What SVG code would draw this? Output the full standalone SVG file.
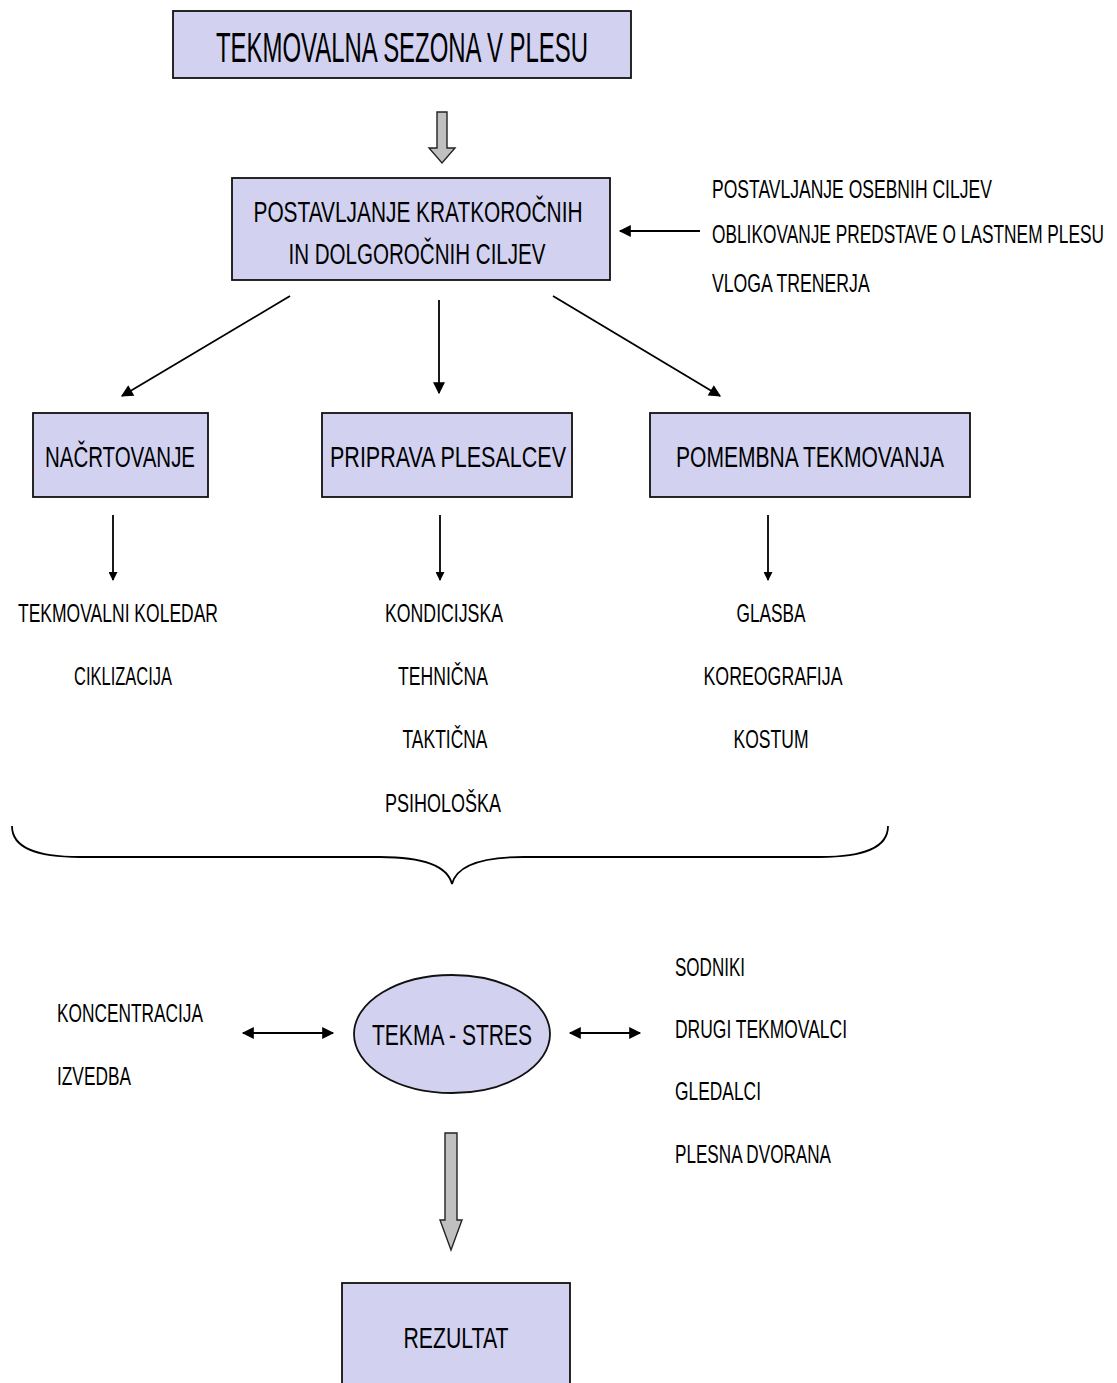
<svg xmlns="http://www.w3.org/2000/svg" width="1117" height="1383" viewBox="0 0 1117 1383">
  <style>
    .box { fill: #d2d2f0; stroke: #111; stroke-width: 1.8; }
    .t { font-family: "Liberation Sans", Arial, sans-serif; fill: #000; }
    .big { font-size: 42px; }
    .mid { font-size: 30px; }
    .sm { font-size: 26px; }
    .con { stroke: #000; stroke-width: 1.8; fill: none; }
    .block { fill: #c0c0c0; stroke: #222; stroke-width: 1.4; }
  </style>
  <defs>
    <marker id="ah" viewBox="0 0 10 10" refX="9" refY="5" markerWidth="10" markerHeight="9" markerUnits="userSpaceOnUse" orient="auto-start-reverse">
      <path d="M0,0 L10,5 L0,10 z" fill="#000"/>
    </marker>
    <marker id="ahb" viewBox="0 0 10 10" refX="9" refY="5" markerWidth="14" markerHeight="12" markerUnits="userSpaceOnUse" orient="auto-start-reverse">
      <path d="M0,0 L10,5 L0,10 z" fill="#000"/>
    </marker>
  </defs>

  <rect width="1117" height="1383" fill="#fff"/>

  <g id="season">
    <rect class="box" x="173" y="11" width="458" height="67"/>
    <text class="t big" x="402" y="62" text-anchor="middle" textLength="372" lengthAdjust="spacingAndGlyphs">TEKMOVALNA SEZONA V PLESU</text>
  </g>

  <g id="goals">
    <rect class="box" x="232" y="178" width="378" height="102"/>
    <text class="t mid" x="418" y="222" text-anchor="middle" textLength="329" lengthAdjust="spacingAndGlyphs">POSTAVLJANJE KRATKOROČNIH</text>
    <text class="t mid" x="417" y="264" text-anchor="middle" textLength="257" lengthAdjust="spacingAndGlyphs">IN DOLGOROČNIH CILJEV</text>
  </g>

  <!-- condensed with a horizontal scale so the long lines keep inside the page -->
  <g id="goal-factors">
    <text class="t sm" transform="translate(712,198) scale(0.66,1)" textLength="424" lengthAdjust="spacingAndGlyphs">POSTAVLJANJE OSEBNIH CILJEV</text>
    <text class="t sm" transform="translate(712,243) scale(0.66,1)" textLength="594" lengthAdjust="spacingAndGlyphs">OBLIKOVANJE PREDSTAVE O LASTNEM PLESU</text>
    <text class="t sm" transform="translate(712,292) scale(0.66,1)" textLength="239" lengthAdjust="spacingAndGlyphs">VLOGA TRENERJA</text>
  </g>

  <g id="planning">
    <rect class="box" x="33" y="413" width="175" height="84"/>
    <text class="t mid" x="120" y="467" text-anchor="middle" textLength="150" lengthAdjust="spacingAndGlyphs">NAČRTOVANJE</text>
  </g>

  <g id="preparation">
    <rect class="box" x="322" y="413" width="250" height="84"/>
    <text class="t mid" x="448" y="467" text-anchor="middle" textLength="236" lengthAdjust="spacingAndGlyphs">PRIPRAVA PLESALCEV</text>
  </g>

  <g id="competitions">
    <rect class="box" x="650" y="413" width="320" height="84"/>
    <text class="t mid" x="810" y="467" text-anchor="middle" textLength="268" lengthAdjust="spacingAndGlyphs">POMEMBNA TEKMOVANJA</text>
  </g>

  <g id="planning-items">
    <text class="t sm" x="118" y="622" text-anchor="middle" textLength="200" lengthAdjust="spacingAndGlyphs">TEKMOVALNI KOLEDAR</text>
    <text class="t sm" x="123" y="685" text-anchor="middle" textLength="98" lengthAdjust="spacingAndGlyphs">CIKLIZACIJA</text>
  </g>

  <g id="preparation-items">
    <text class="t sm" x="444" y="622" text-anchor="middle" textLength="118" lengthAdjust="spacingAndGlyphs">KONDICIJSKA</text>
    <text class="t sm" x="443" y="685" text-anchor="middle" textLength="90" lengthAdjust="spacingAndGlyphs">TEHNIČNA</text>
    <text class="t sm" x="445" y="748" text-anchor="middle" textLength="85" lengthAdjust="spacingAndGlyphs">TAKTIČNA</text>
    <text class="t sm" x="443" y="812" text-anchor="middle" textLength="116" lengthAdjust="spacingAndGlyphs">PSIHOLOŠKA</text>
  </g>

  <g id="competition-items">
    <text class="t sm" x="771" y="622" text-anchor="middle" textLength="69" lengthAdjust="spacingAndGlyphs">GLASBA</text>
    <text class="t sm" x="773" y="685" text-anchor="middle" textLength="139" lengthAdjust="spacingAndGlyphs">KOREOGRAFIJA</text>
    <text class="t sm" x="771" y="748" text-anchor="middle" textLength="75" lengthAdjust="spacingAndGlyphs">KOSTUM</text>
  </g>

  <g id="brace">
    <path class="con" d="M12,826 C12,848 36,857 80,857 L380,857 C420,857 447,864 452,884 C457,864 484,857 524,857 L820,857 C864,857 888,848 888,826"/>
  </g>

  <g id="stress">
    <ellipse class="box" cx="452" cy="1034" rx="98" ry="59"/>
    <text class="t mid" x="452" y="1045" text-anchor="middle" textLength="160" lengthAdjust="spacingAndGlyphs">TEKMA - STRES</text>
  </g>

  <g id="inner-factors">
    <text class="t sm" x="57" y="1022" textLength="146" lengthAdjust="spacingAndGlyphs">KONCENTRACIJA</text>
    <text class="t sm" x="57" y="1085" textLength="74" lengthAdjust="spacingAndGlyphs">IZVEDBA</text>
  </g>

  <g id="outer-factors">
    <text class="t sm" x="675" y="976" textLength="70" lengthAdjust="spacingAndGlyphs">SODNIKI</text>
    <text class="t sm" x="675" y="1038" textLength="172" lengthAdjust="spacingAndGlyphs">DRUGI TEKMOVALCI</text>
    <text class="t sm" x="675" y="1100" textLength="86" lengthAdjust="spacingAndGlyphs">GLEDALCI</text>
    <text class="t sm" x="675" y="1163" textLength="156" lengthAdjust="spacingAndGlyphs">PLESNA DVORANA</text>
  </g>

  <g id="result">
    <rect class="box" x="342" y="1283" width="228" height="110"/>
    <text class="t mid" x="456" y="1348" text-anchor="middle" textLength="105" lengthAdjust="spacingAndGlyphs">REZULTAT</text>
  </g>

  <g id="connectors">
    <!-- grey block arrows -->
    <polygon class="block" points="437,112 447,112 447,148 455,148 442,163 429,148 437,148"/>
    <polygon class="block" points="445,1133 457,1133 457,1220 462,1220 451,1250 440,1220 445,1220"/>
    <!-- goal factors into goals -->
    <line class="con" x1="700" y1="231" x2="620" y2="231" marker-end="url(#ahb)"/>
    <!-- goals to the three areas -->
    <line class="con" x1="290" y1="296" x2="122" y2="396" marker-end="url(#ahb)"/>
    <line class="con" x1="439" y1="300" x2="439" y2="393" marker-end="url(#ahb)"/>
    <line class="con" x1="553" y1="296" x2="720" y2="396" marker-end="url(#ahb)"/>
    <!-- areas to their items -->
    <line class="con" x1="113" y1="515" x2="113" y2="580" marker-end="url(#ah)"/>
    <line class="con" x1="440" y1="515" x2="440" y2="580" marker-end="url(#ah)"/>
    <line class="con" x1="768" y1="515" x2="768" y2="580" marker-end="url(#ah)"/>
    <!-- two-way links around the stress node -->
    <line class="con" x1="243" y1="1033" x2="333" y2="1033" marker-start="url(#ahb)" marker-end="url(#ahb)"/>
    <line class="con" x1="570" y1="1033" x2="640" y2="1033" marker-start="url(#ahb)" marker-end="url(#ahb)"/>
  </g>
</svg>
